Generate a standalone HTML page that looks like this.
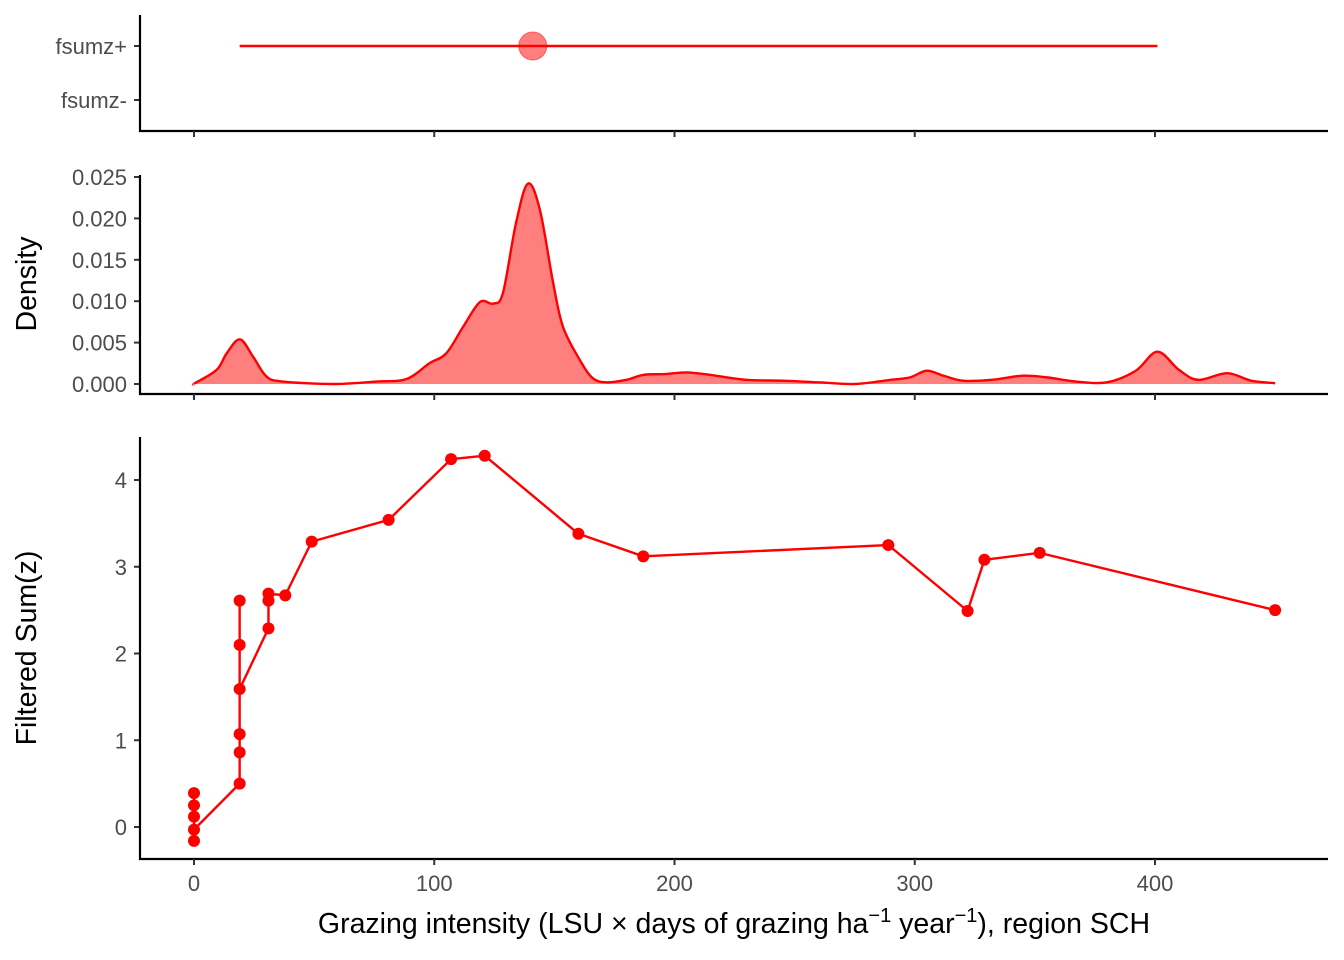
<!DOCTYPE html>
<html><head><meta charset="utf-8"><style>
body{margin:0;background:#fff;}
svg{display:block;font-family:"Liberation Sans",Arial,sans-serif;}
.tl{font-size:22px;fill:#4d4d4d;}
.ti{font-size:28.5px;fill:#000;}
</style></head><body>
<svg id="c" width="1344" height="960"></svg>
<script>
const xTicks=[0,100,200,300,400];
const catLabels=["fsumz+","fsumz-"];
const rangeLow=[19], rangeHigh=[401], rangeMid=[141];
const densX=[0,0.4,9.4,13.6,19.1,24.6,30.2,37,58,76,88.5,98,105,112,119,124.5,128.6,134,139,144,149.5,153.6,160.6,166,171.8,180,187,196,205,215,230,245,260,275,290,298,305,312,320,332,345,355,367,380,392,401,410,418,430,440,450];
const densY=[0,0.0001,0.0017,0.0037,0.0054,0.0033,0.0009,0.0003,0,0.0003,0.0006,0.0025,0.0037,0.0069,0.0099,0.0097,0.011,0.0194,0.0242,0.021,0.0122,0.0069,0.0029,0.0007,0.0002,0.0005,0.0011,0.0012,0.0014,0.0011,0.0005,0.0004,0.0002,0,0.0005,0.0008,0.0016,0.0010,0.0004,0.0005,0.001,0.0008,0.0003,0.0002,0.0016,0.0039,0.0017,0.0005,0.0013,0.0004,0.0001];
const densTicks=[0,0.005,0.010,0.015,0.020,0.025];
const ptX=[0,0,0,0,0,19,19,19,19,19,19,31,31,31,38,49,81,107,121,160,187,289,322,329,352,450];
const ptY=[-0.16,0.39,0.25,0.12,-0.03,0.50,0.86,1.07,2.10,2.61,1.59,2.29,2.61,2.69,2.67,3.29,3.54,4.24,4.28,3.38,3.12,3.25,2.49,3.08,3.16,2.50];
const yTicks=[0,1,2,3,4];

const NS="http://www.w3.org/2000/svg";
const svg=document.getElementById('c');
function mk(t,a,p){const e=document.createElementNS(NS,t);for(const k in a)e.setAttribute(k,a[k]);(p||svg).appendChild(e);return e;}
const X=v=>194+v*2.4025;
const YD=v=>384-v*8280;
const YB=v=>827-v*86.75;
const catY=[46,100];
function smooth(pts){let s='M'+pts[0][0]+' '+pts[0][1];
for(let i=0;i<pts.length-1;i++){const p0=pts[Math.max(0,i-1)],p1=pts[i],p2=pts[i+1],p3=pts[Math.min(pts.length-1,i+2)];
const c1=[p1[0]+(p2[0]-p0[0])/6,p1[1]+(p2[1]-p0[1])/6],c2=[p2[0]-(p3[0]-p1[0])/6,p2[1]-(p3[1]-p1[1])/6];
s+=` C${c1[0]} ${c1[1]} ${c2[0]} ${c2[1]} ${p2[0]} ${p2[1]}`;}return s;}

// top panel
let g=mk('g',{});
catLabels.forEach((l,i)=>{let t=mk('text',{x:127,y:catY[i]+8,'text-anchor':'end',class:'tl'},g);t.textContent=l;

mk('line',{x1:134,x2:140,y1:catY[i],y2:catY[i],stroke:'#333','stroke-width':2},g);});
let rl=mk('line',{x1:X(rangeLow[0]),x2:X(rangeHigh[0]),y1:catY[0],y2:catY[0],stroke:'#f00','stroke-width':2.4},g);

let rc=mk('circle',{cx:X(rangeMid[0]),cy:catY[0],r:14,fill:'rgba(255,0,0,0.5)',stroke:'rgba(255,0,0,0.5)'},g);

mk('path',{d:'M140 15V131H1328',fill:'none',stroke:'#000','stroke-width':2.2},g);
xTicks.forEach(v=>mk('line',{x1:X(v),x2:X(v),y1:131,y2:137,stroke:'#333','stroke-width':2},g));

// density panel
g=mk('g',{});
const dp=densX.map((x,i)=>[X(x),YD(densY[i])]);
const ln=smooth(dp);
let da=mk('path',{d:ln+' L'+X(densX[densX.length-1])+' '+YD(0)+' L'+X(densX[0])+' '+YD(0)+'Z',fill:'rgba(255,0,0,0.5)',stroke:'none'},g);

let dl=mk('path',{d:ln,fill:'none',stroke:'#f00','stroke-width':2.4,'stroke-linejoin':'round'},g);

densTicks.forEach(v=>{mk('line',{x1:134,x2:140,y1:YD(v),y2:YD(v),stroke:'#333','stroke-width':2},g);
let t=mk('text',{x:127,y:YD(v)+8,'text-anchor':'end',class:'tl'},g);t.textContent=v.toFixed(3);
});
mk('path',{d:'M140 175V394H1328',fill:'none',stroke:'#000','stroke-width':2.2},g);
xTicks.forEach(v=>mk('line',{x1:X(v),x2:X(v),y1:394,y2:400,stroke:'#333','stroke-width':2},g));
let dt=mk('text',{x:0,y:0,class:'ti','text-anchor':'middle',transform:'translate(36,284) rotate(-90)'},g);dt.textContent='Density';


// bottom panel
g=mk('g',{});
let p='';ptX.forEach((x,i)=>p+=(i?' L':'M')+X(x)+' '+YB(ptY[i]));
let sl=mk('path',{d:p,fill:'none',stroke:'#f00','stroke-width':2.4,'stroke-linejoin':'round'},g);

ptX.forEach((x,i)=>{let c=mk('circle',{cx:X(x),cy:YB(ptY[i]),r:6,fill:'#f00'},g);
});
yTicks.forEach(v=>{mk('line',{x1:134,x2:140,y1:YB(v),y2:YB(v),stroke:'#333','stroke-width':2},g);
let t=mk('text',{x:127,y:YB(v)+8,'text-anchor':'end',class:'tl'},g);t.textContent=v;
});
mk('path',{d:'M140 437V859H1328',fill:'none',stroke:'#000','stroke-width':2.2},g);
xTicks.forEach(v=>{mk('line',{x1:X(v),x2:X(v),y1:859,y2:865,stroke:'#333','stroke-width':2},g);
let t=mk('text',{x:X(v),y:891,'text-anchor':'middle',class:'tl'},g);t.textContent=v;
});
let yt=mk('text',{x:0,y:0,class:'ti','text-anchor':'middle',transform:'translate(36,648) rotate(-90)'},g);yt.textContent='Filtered Sum(z)';

let xt=mk('text',{x:734,y:933,class:'ti','text-anchor':'middle'},g);

xt.innerHTML='Grazing intensity (LSU × days of grazing ha<tspan dy="-11" font-size="20">−1</tspan><tspan dy="11"> year</tspan><tspan dy="-11" font-size="20">−1</tspan><tspan dy="11">), region SCH</tspan>';
</script>
</body></html>
